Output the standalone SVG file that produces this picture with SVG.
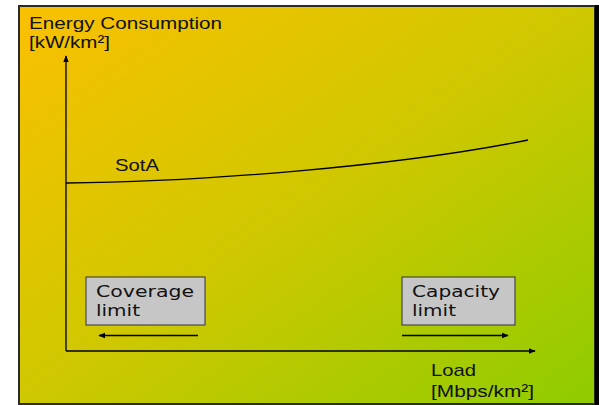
<svg xmlns="http://www.w3.org/2000/svg" width="599" height="405" viewBox="0 0 599 405">
  <defs>
    <linearGradient id="bg" x1="0" y1="0" x2="1" y2="1">
      <stop offset="0" stop-color="#FAC000"/>
      <stop offset="0.5" stop-color="#CFC800"/>
      <stop offset="1" stop-color="#8ECC00"/>
    </linearGradient>
    <marker id="head" viewBox="0 0 10 10" refX="9" refY="5" markerWidth="7" markerHeight="7" markerUnits="userSpaceOnUse" orient="auto">
      <path d="M0,1 L10,5 L0,9 Z" fill="#000"/>
    </marker>
  </defs>
  <style>
    .lbl { font-family: "Liberation Sans", Arial, sans-serif; font-size: 17px; fill: #111; }
    .box { fill: #C6C6C6; stroke: #333; stroke-width: 1; }
    .boxtxt { font-family: "DejaVu Sans", Verdana, sans-serif; font-size: 16.5px; fill: #111; }
    .line { fill: none; stroke: #000; stroke-width: 1.3; }
  </style>

  <!-- panel -->
  <rect x="0" y="0" width="599" height="405" fill="#fff"/>
  <rect x="19" y="6" width="576" height="398" fill="url(#bg)" stroke="#2a2a2a" stroke-width="2"/>
  <rect x="595" y="5" width="4" height="400" fill="#000"/>

  <!-- connectors: axes, curve, direction arrows -->
  <g id="connectors">
    <path class="line" d="M66,351 L66,56" marker-end="url(#head)"/>
    <path class="line" d="M66,351 L535,351" marker-end="url(#head)"/>
    <path class="line" d="M66,183 C200,182 400,166 528,140" stroke-width="1.4"/>
    <path class="line" d="M198,335.5 L99,335.5" marker-end="url(#head)"/>
    <path class="line" d="M402,335.5 L508,335.5" marker-end="url(#head)"/>
  </g>

  <g id="y-axis-label">
    <text class="lbl" x="29" y="28.5" textLength="193" lengthAdjust="spacingAndGlyphs">Energy Consumption</text>
    <text class="lbl" x="29" y="47.5" textLength="81" lengthAdjust="spacingAndGlyphs">[kW/km²]</text>
  </g>

  <g id="x-axis-label">
    <text class="lbl" x="431" y="375.5" textLength="45" lengthAdjust="spacingAndGlyphs">Load</text>
    <text class="lbl" x="431" y="396.5" textLength="103" lengthAdjust="spacingAndGlyphs">[Mbps/km²]</text>
  </g>

  <g id="sota-label">
    <text class="lbl" x="115" y="171" textLength="44" lengthAdjust="spacingAndGlyphs">SotA</text>
  </g>

  <g id="coverage-limit">
    <rect class="box" x="86" y="277" width="119" height="48"/>
    <text class="boxtxt" x="96" y="297" textLength="98" lengthAdjust="spacingAndGlyphs">Coverage</text>
    <text class="boxtxt" x="96" y="316" textLength="44" lengthAdjust="spacingAndGlyphs">limit</text>
  </g>

  <g id="capacity-limit">
    <rect class="box" x="402" y="277" width="113" height="48"/>
    <text class="boxtxt" x="412" y="297" textLength="88" lengthAdjust="spacingAndGlyphs">Capacity</text>
    <text class="boxtxt" x="412" y="316" textLength="44" lengthAdjust="spacingAndGlyphs">limit</text>
  </g>
</svg>
